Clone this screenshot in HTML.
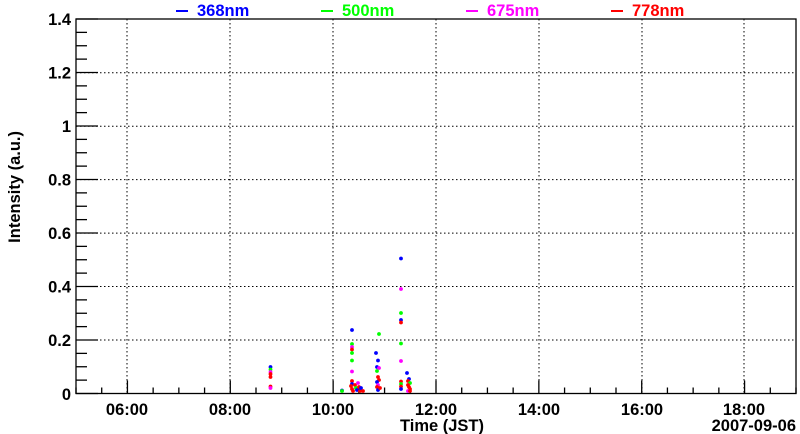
<!DOCTYPE html>
<html><head><meta charset="utf-8"><style>
html,body{margin:0;padding:0;background:#fff;}
svg{display:block;font-family:"Liberation Sans",Arial,sans-serif;font-weight:bold;}
</style></head><body>
<svg width="800" height="434" viewBox="0 0 800 434" xmlns="http://www.w3.org/2000/svg">
<rect width="800" height="434" fill="#fff"/>
<g stroke="#000" stroke-width="1" stroke-dasharray="1.5,2.5" fill="none">
<line x1="127" y1="19" x2="127" y2="393.5"/>
<line x1="230" y1="19" x2="230" y2="393.5"/>
<line x1="333" y1="19" x2="333" y2="393.5"/>
<line x1="436" y1="19" x2="436" y2="393.5"/>
<line x1="539" y1="19" x2="539" y2="393.5"/>
<line x1="642" y1="19" x2="642" y2="393.5"/>
<line x1="744" y1="19" x2="744" y2="393.5"/>
<line x1="76" y1="340" x2="796" y2="340"/>
<line x1="76" y1="286.5" x2="796" y2="286.5"/>
<line x1="76" y1="233.1" x2="796" y2="233.1"/>
<line x1="76" y1="179.6" x2="796" y2="179.6"/>
<line x1="76" y1="126.2" x2="796" y2="126.2"/>
<line x1="76" y1="72.7" x2="796" y2="72.7"/>
</g>
<rect x="76" y="19" width="720" height="374.5" fill="none" stroke="#000" stroke-width="1.3"/>
<g stroke="#000" stroke-width="1.3" id="yt"></g>
<g stroke="#000" stroke-width="1.3" id="xt"></g>
<g font-size="16.5" text-anchor="end" fill="#000">
<text x="71" y="400">0</text>
<text x="71" y="346">0.2</text>
<text x="71" y="292.5">0.4</text>
<text x="71" y="239">0.6</text>
<text x="71" y="185.5">0.8</text>
<text x="71" y="132">1</text>
<text x="71" y="78.5">1.2</text>
<text x="71" y="25">1.4</text>
</g>
<g font-size="16.5" text-anchor="middle" fill="#000">
<text x="127" y="415">06:00</text>
<text x="230" y="415">08:00</text>
<text x="333" y="415">10:00</text>
<text x="436" y="415">12:00</text>
<text x="539" y="415">14:00</text>
<text x="642" y="415">16:00</text>
<text x="744" y="415">18:00</text>
</g>
<text x="796" y="431" font-size="16.5" text-anchor="end">2007-09-06</text>
<text x="484" y="431" font-size="16.5" text-anchor="end">Time (JST)</text>
<text transform="translate(20,131) rotate(-90)" font-size="16.5" text-anchor="end">Intensity (a.u.)</text>
<g font-size="16.5">
<line x1="176" y1="11" x2="188" y2="11" stroke="#0000ff" stroke-width="2"/><text x="197" y="16" fill="#0000ff">368nm</text>
<line x1="321" y1="11" x2="333" y2="11" stroke="#00ff00" stroke-width="2"/><text x="342" y="16" fill="#00ff00">500nm</text>
<line x1="466" y1="11" x2="478" y2="11" stroke="#ff00ff" stroke-width="2"/><text x="487" y="16" fill="#ff00ff">675nm</text>
<line x1="611" y1="11" x2="623" y2="11" stroke="#ff0000" stroke-width="2"/><text x="632" y="16" fill="#ff0000">778nm</text>
</g>
<g id="pts"></g>
<script>
var ns="http://www.w3.org/2000/svg";
var yt=document.getElementById("yt");
for(var i=0;i<=28;i++){var y=393.5-i*374.5/28;var l=document.createElementNS(ns,"line");l.setAttribute("x1",76);l.setAttribute("x2",76+(i%4==0?22:11));l.setAttribute("y1",y);l.setAttribute("y2",y);yt.appendChild(l);}
var xt=document.getElementById("xt");
for(var i=0;i<=28;i++){var x=76+i*720/28;var l=document.createElementNS(ns,"line");var maj=(i%4==2);l.setAttribute("x1",x);l.setAttribute("x2",x);l.setAttribute("y1",393.5);l.setAttribute("y2",393.5-(maj?13:6));xt.appendChild(l);}
var C={b:"#0000ff",g:"#00ff00",m:"#ff00ff",r:"#ff0000"};
var P=[
[270.5,367,"b"],[270.5,369.5,"g"],[270.5,372,"m"],[270.5,374,"r"],[270.5,377,"r"],[270.5,386.5,"r"],[270.5,388,"m"],
[342,390.5,"b"],[342,391,"g"],
[352,330,"b"],[352,344,"g"],[352,347,"m"],[352,349.5,"r"],[352,353,"g"],[352,360.5,"g"],[352,371.5,"m"],[352,381,"r"],[352,384,"b"],[351,386,"r"],[352,389,"r"],[353,391,"r"],
[355,385,"r"],[356,388,"g"],[357,390,"b"],[358,383,"m"],[359,387,"r"],[360,391,"r"],[361,388,"b"],[363,391,"r"],
[376,353,"b"],[378,360.5,"b"],[377,367,"b"],[379,368,"m"],[377,371,"g"],[378,377,"r"],[379,380,"r"],[377,382,"b"],[378,385,"m"],[377,387,"r"],[378,390,"b"],[380,388,"r"],[379,334,"g"],
[401,258.5,"b"],[401,289,"m"],[401,313,"g"],[401,320,"b"],[401,322.5,"r"],[401,343.5,"g"],[401,361,"m"],[401,381.5,"r"],[401,384,"g"],[401,386.5,"r"],[401,389,"b"],
[407,373,"b"],[409,379,"b"],[408,381,"r"],[410,383,"g"],[408,385,"r"],[409,387,"r"],[410,389,"r"],[408,391,"m"],[410,391,"r"]
];
var g=document.getElementById("pts");
P.forEach(function(p){var c=document.createElementNS(ns,"circle");c.setAttribute("cx",p[0]);c.setAttribute("cy",p[1]);c.setAttribute("r",1.9);c.setAttribute("fill",C[p[2]]);g.appendChild(c);});
</script>
</svg>
</body></html>
